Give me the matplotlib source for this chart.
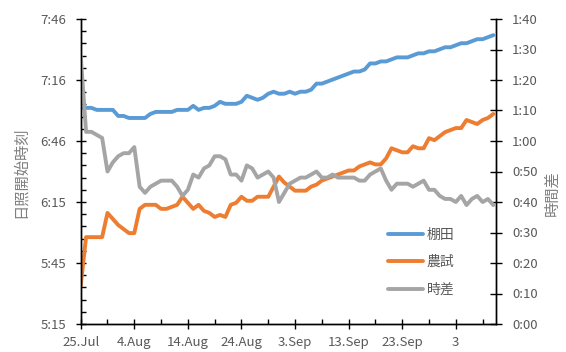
import matplotlib
matplotlib.use("Agg")
import matplotlib.pyplot as plt
import numpy as np
import pandas as pd

plt.rcParams['font.family'] = ['Noto Sans CJK JP', 'DejaVu Sans']

# ---- data ----
start_date = "2020-07-25"
# 日照開始時刻 (minutes after midnight)
tanada = [422, 422, 422, 421, 421, 421, 421, 418, 418, 417, 417, 417, 417, 419, 420, 420,
          420, 420, 421, 421, 421, 423, 421, 422, 422, 423, 425, 424, 424, 424, 425, 428,
          427, 426, 427, 429, 430, 429, 429, 430, 429, 430, 430, 431, 434, 434, 435, 436,
          437, 438, 439, 440, 440, 441, 444, 444, 445, 445, 446, 447, 447, 447, 448, 449,
          449, 450, 450, 451, 452, 452, 453, 454, 454, 455, 456, 456, 457, 458]
noushi = [334, 358, 358, 358, 358, 370, 367, 364, 362, 360, 360, 372, 374, 374, 374, 372,
          372, 373, 374, 378, 375, 372, 374, 371, 370, 368, 369, 368, 374, 375, 378, 376,
          376, 378, 378, 378, 383, 388, 385, 383, 381, 381, 381, 383, 384, 386, 387, 388,
          389, 390, 391, 391, 393, 394, 395, 394, 394, 397, 402, 401, 400, 400, 403, 402,
          402, 407, 406, 408, 410, 411, 412, 412, 416, 415, 414, 416, 417, 419]
# 時差 (minutes)
jisa = [88, 63, 63, 62, 61, 50, 53, 55, 56, 56, 58, 45, 43, 45, 46, 47,
        47, 47, 45, 42, 44, 49, 48, 51, 52, 55, 55, 54, 49, 49, 47, 52,
        51, 48, 49, 50, 48, 40, 43, 46, 47, 48, 48, 49, 50, 48, 48, 49,
        48, 48, 48, 48, 47, 47, 49, 50, 51, 47, 44, 46, 46, 46, 45, 46,
        47, 44, 44, 42, 41, 41, 40, 42, 39, 41, 42, 40, 41, 39]
series_names = ["棚田", "農試", "時差"]
x_tick_labels = ["25.Jul", "4.Aug", "14.Aug", "24.Aug", "3.Sep", "13.Sep", "23.Sep", "3"]
left_tick_labels = ["5:15", "5:45", "6:15", "6:46", "7:16", "7:46"]
right_tick_labels = ["0:00", "0:10", "0:20", "0:30", "0:40", "0:50",
                     "1:00", "1:10", "1:20", "1:30", "1:40"]
left_min, left_max = 315, 466
right_min, right_max = 0, 100

dates = pd.date_range(start_date, periods=len(tanada), freq="D")

# ---- figure ----
W, H = 566, 352
fig = plt.figure(figsize=(W / 100, H / 100), dpi=100)
x0, x1, y0, y1 = 80.7, 496, 19, 324
ax = fig.add_axes([x0 / W, 1 - y1 / H, (x1 - x0) / W, (y1 - y0) / H])
ax2 = ax.twinx()

c_blue, c_orange, c_gray = "#5B9BD5", "#ED7D31", "#A5A5A5"
lw = 2.8
kw = dict(lw=lw, solid_capstyle="round", solid_joinstyle="round")
l1, = ax.plot(dates, tanada, color=c_blue, **kw)
l2, = ax.plot(dates, noushi, color=c_orange, **kw)
l3, = ax2.plot(dates, jisa, color=c_gray, **kw)

ax.set_xlim(dates[0], dates[-1] + pd.Timedelta(hours=12))
ax.set_ylim(left_min, left_max)
ax2.set_ylim(right_min, right_max)

tick_col = "#595959"
# x ticks
ax.set_xticks(dates[::10])
ax.set_xticklabels(x_tick_labels)
ax.set_xticks(dates[5::10], minor=True)
ax.tick_params(axis="x", which="major", direction="inout", length=7, width=1,
               labelsize=9.5, labelcolor=tick_col, pad=5)
ax.tick_params(axis="x", which="minor", direction="in", length=3.5, width=1)

# left y ticks
lt = np.linspace(left_min, left_max, len(left_tick_labels))
ax.set_yticks(lt)
ax.set_yticklabels(left_tick_labels)
ax.set_yticks(np.linspace(left_min, left_max, 5 * (len(left_tick_labels) - 1) + 1), minor=True)
ax.tick_params(axis="y", which="major", direction="inout", length=7, width=1,
               labelsize=9.5, labelcolor=tick_col, pad=7)
ax.tick_params(axis="y", which="minor", direction="in", length=3.5, width=1)

# right y ticks
ax2.set_yticks(np.linspace(right_min, right_max, len(right_tick_labels)))
ax2.set_yticklabels(right_tick_labels)
ax2.tick_params(axis="y", which="major", direction="inout", length=9, width=1,
                labelsize=9.5, labelcolor=tick_col, pad=7)

for a in (ax, ax2):
    a.spines["top"].set_visible(False)
    for s in ("left", "right", "bottom"):
        a.spines[s].set_linewidth(1.0)
        a.spines[s].set_color("black")
    a.patch.set_visible(False)

fig.text(20 / W, 1 - 172 / H, "日照開始時刻", rotation=90, ha="center", va="center",
         fontsize=11, color="#7F7F7F")
fig.text(552 / W, 1 - 193 / H, "時間差", rotation=90, ha="center", va="center",
         fontsize=11, color="#7F7F7F")

leg = ax2.legend([l1, l2, l3], series_names, loc="upper left",
                 bbox_to_anchor=(388 / W, 1 - 228 / H), bbox_transform=fig.transFigure,
                 frameon=False, fontsize=10, borderpad=0, borderaxespad=0,
                 handlelength=2.5, handletextpad=0.3, labelspacing=0.95)
for t in leg.get_texts():
    t.set_color(tick_col)

fig.savefig("out.png", dpi=100)
